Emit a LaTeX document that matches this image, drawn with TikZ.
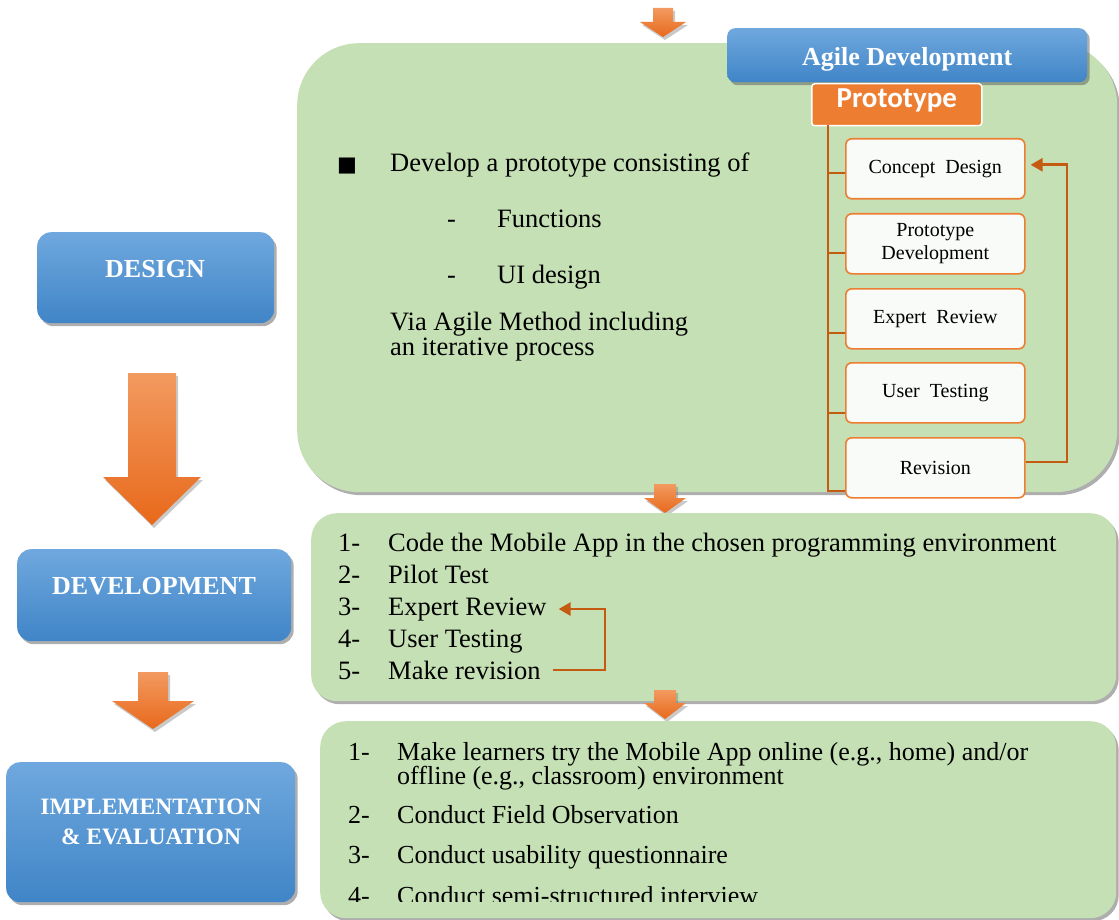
\documentclass[tikz,border=0pt]{standalone}
\usepackage{fontspec}
\setmainfont{Liberation Serif}
\newfontfamily\protofont{Carlito}
\newfontfamily\symfont{DejaVu Sans}
\usetikzlibrary{shadows,arrows.meta,calc}

\definecolor{panelgreen}{HTML}{C5E0B4}
\definecolor{bluetop}{HTML}{6FA8DE}
\definecolor{bluebot}{HTML}{4085C7}
\definecolor{orangetop}{HTML}{F29A60}
\definecolor{orangebot}{HTML}{E8691B}
\definecolor{accent}{HTML}{ED7D31}
\definecolor{linkcol}{HTML}{C55A11}
\definecolor{cardfill}{HTML}{F8FBF7}

\tikzset{
  softshadow/.style={drop shadow={shadow xshift=2.5pt, shadow yshift=-3pt, opacity=0.45, fill=black!70}},
  panel/.style={fill=panelgreen, draw=none, anchor=north west, inner sep=0pt, softshadow},
  phasebox/.style={top color=bluetop, bottom color=bluebot, draw=none, anchor=north west,
    rounded corners=14pt, inner sep=0pt, text=white, align=center,
    font=\bfseries\fontsize{26}{30}\selectfont, softshadow},
  agilebox/.style={top color=bluetop, bottom color=bluebot, draw=none, anchor=north west,
    rounded corners=8pt, inner sep=0pt, text=white,
    font=\bfseries\fontsize{26}{30}\selectfont, softshadow},
  protobox/.style={fill=accent, draw=white, line width=1.5pt, rounded corners=3pt, anchor=north west,
    inner sep=0pt, text=white, font=\protofont\bfseries\fontsize{29}{32}\selectfont},
  card/.style={fill=cardfill, draw=accent, line width=1.6pt, rounded corners=6pt, anchor=north west,
    minimum width=179pt, minimum height=60pt, inner sep=0pt, align=center,
    font=\fontsize{20}{23}\selectfont},
  branch/.style={draw=linkcol, line width=2.4pt},
  loopline/.style={draw=linkcol, line width=2.6pt, -{Triangle[length=12pt,width=13pt]}},
  bigtext/.style={anchor=base west, inner sep=0pt, font=\fontsize{26.5}{30}\selectfont},
  listtext/.style={anchor=base west, inner sep=0pt, font=\fontsize{26}{24}\selectfont, align=left},
  phaselabel/.style={text=white, anchor=base, inner sep=0pt, font=\bfseries\fontsize{26}{30}\selectfont},
  blockarrow/.style={top color=orangetop, bottom color=orangebot, draw=none,
    drop shadow={shadow xshift=2pt, shadow yshift=-3pt, opacity=0.35, fill=black!60}}
}

% downward block arrow: centre x, top y, half shaft width, shaft end y, half head width, tip y
\newcommand\downblock[6]{%
  \path[blockarrow] (#1-#3,#2) -- (#1+#3,#2) -- (#1+#3,#4) -- (#1+#5,#4) -- (#1,#6)
    -- (#1-#5,#4) -- (#1-#3,#4) -- cycle;}

\begin{document}
\begin{tikzpicture}[x=1pt,y=-1pt]
\useasboundingbox[fill=white] (0,0) rectangle (1119,920);

% ---- left column: phases and arrows ----
\node[phasebox, minimum width=237pt, minimum height=91pt] (design) at (37,232) {};
\node[phaselabel] (designlbl) at (155,277) {DESIGN};
\downblock{152}{373}{24}{477}{49}{525}

\node[phasebox, minimum width=274pt, minimum height=92pt] (develop) at (17,549) {};
\node[phaselabel] (developlbl) at (154,594) {DEVELOPMENT};
\downblock{153}{672}{15}{701}{41}{729}

\node[phasebox, minimum width=289pt, minimum height=140pt] (impl) at (6,762) {};
\node[phaselabel, font=\bfseries\fontsize{23.5}{30}\selectfont] (impllbl1) at (151,814) {IMPLEMENTATION};
\node[phaselabel, font=\bfseries\fontsize{23.5}{30}\selectfont] (impllbl2) at (151,844) {\& EVALUATION};

% ---- design panel ----
\downblock{663}{8}{10}{22}{23}{37}
\node[panel, rounded corners=62pt, minimum width=820pt, minimum height=449pt] (designpanel) at (297,43) {};

\node[anchor=base west, inner sep=0pt, font=\symfont\fontsize{21}{24}\selectfont] (bullet) at (337,172) {■};
\node[bigtext] (dev0) at (390,172) {Develop a prototype consisting of};
\node[bigtext] (dash1) at (447,228) {-};
\node[bigtext] (func) at (497,228) {Functions};
\node[bigtext] (dash2) at (447,283) {-};
\node[bigtext] (uides) at (497,283) {UI design};
\node[bigtext] (via1) at (390,330) {Via Agile Method including};
\node[bigtext] (via2) at (390,355) {an iterative process};

\node[agilebox, minimum width=360pt, minimum height=54pt] (agile) at (727,28)
  {\raisebox{-10pt}[0pt][0pt]{Agile Development}};
\node[protobox, minimum width=170pt, minimum height=42pt] (proto) at (811,83)
  {\raisebox{-2.5pt}[0pt][0pt]{Prototype}};

\node[card] (c1) at (845,138) {Concept\ \ Design};
\node[card] (c2) at (845,213) {Prototype\\Development};
\node[card] (c3) at (845,288) {Expert\ \ Review};
\node[card] (c4) at (845,362) {User\ \ Testing};
\node[card] (c5) at (845,437) {Revision};

\coordinate (trunktop) at (828,125);
\coordinate (trunkbot) at (828,491);
\coordinate (b1) at ($(c1.north west)!0.57!(c1.south west)$);
\coordinate (b2) at ($(c2.north west)!0.65!(c2.south west)$);
\coordinate (b3) at ($(c3.north west)!0.73!(c3.south west)$);
\coordinate (b4) at ($(c4.north west)!0.83!(c4.south west)$);
\path[branch] (trunktop) -- (trunkbot) -- (trunkbot -| c5.west);
\foreach \b in {b1,b2,b3,b4} \path[branch] (trunktop |- \b) -- (\b);

\coordinate (loopright) at (1067,0);
\path[loopline, shorten >=5pt] ([yshift=6pt]c5.east) -- ([yshift=6pt]c5.east -| loopright)
  -- ([yshift=4pt]c1.east -| loopright) -- ([yshift=4pt]c1.east);

% ---- development panel ----
\downblock{665}{484}{11}{498}{21}{513}
\node[panel, rounded corners=26pt, minimum width=805pt, minimum height=188pt] (devpanel) at (311,513) {};
\downblock{665}{690}{11}{703}{21}{719}

\node[bigtext] (n1) at (338,551) {1-};
\node[bigtext] (d1) at (388,551) {Code the Mobile App in the chosen programming environment};
\node[bigtext] (n2) at (338,583) {2-};
\node[bigtext] (d2) at (388,583) {Pilot Test};
\node[bigtext] (n3) at (338,615) {3-};
\node[bigtext] (d3) at (388,615) {Expert Review};
\node[bigtext] (n4) at (338,647) {4-};
\node[bigtext] (d4) at (388,647) {User Testing};
\node[bigtext] (n5) at (338,679) {5-};
\node[bigtext] (d5) at (388,679) {Make revision};

\coordinate (devloop) at (605,0);
\path[loopline, shorten <=12pt, shorten >=12pt] (d5.east) -- (d5.east -| devloop)
  -- (d3.east -| devloop) -- (d3.east);

% ---- implementation panel ----
\node[panel, rounded corners=26pt, minimum width=796pt, minimum height=197pt] (implpanel) at (320,721) {};

\node[listtext] (m1) at (348,760) {1-};
\node[listtext] (e1a) at (397,760) {Make learners try the Mobile App online (e.g., home) and/or};
\node[listtext] (e1b) at (397,784) {offline (e.g., classroom) environment};
\node[listtext] (m2) at (348,823) {2-};
\node[listtext] (e2) at (397,823) {Conduct Field Observation};
\node[listtext] (m3) at (348,863) {3-};
\node[listtext] (e3) at (397,863) {Conduct usability questionnaire};
\begin{scope}
  \clip (0,0) rectangle (1119,901);
  \node[listtext] (m4) at (348,904) {4-};
  \node[listtext] (e4) at (397,904) {Conduct semi-structured interview};
\end{scope}
\end{tikzpicture}
\end{document}
